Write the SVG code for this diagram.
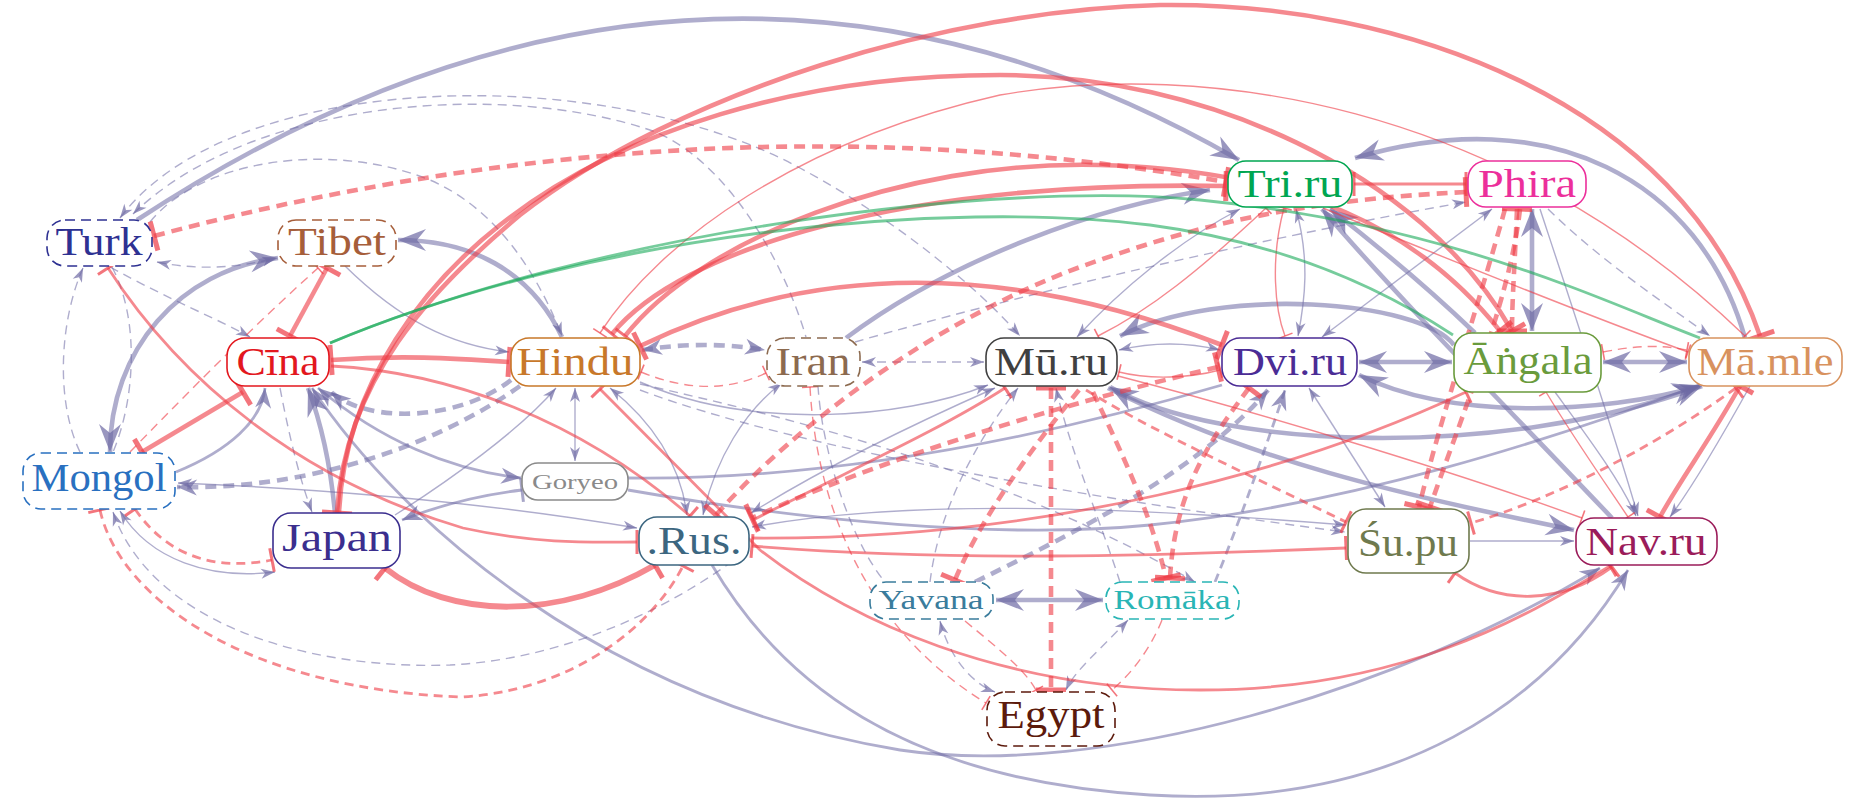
<svg xmlns="http://www.w3.org/2000/svg" width="1852" height="810" viewBox="0 0 1852 810">
<style>
.e{fill:none}
.b{stroke:#6e6aa4;stroke-opacity:.55}
.r{stroke:#ee3a45;stroke-opacity:.6}
.g{stroke:#1aaa5a;stroke-opacity:.6}
.w1{stroke-width:1.4}
.w2{stroke-width:2.8}
.w3{stroke-width:4.6}
.w4{stroke-width:6}
.d{stroke-dasharray:9 6}
.dd{stroke-dasharray:11 7}
.box{fill:#fff;stroke-width:1.6}
.dash{stroke-dasharray:10 6}
.lbl{font-family:"Liberation Serif","Times New Roman",serif;font-size:40px;text-anchor:middle}
.sm{font-size:27px}
.xs{font-size:22px}
</style>
<defs>
<marker id="aS" markerUnits="userSpaceOnUse" orient="auto-start-reverse" overflow="visible" markerWidth="1" markerHeight="1" refX="0" refY="0"><path d="M0,0 L-14,-5 L-10,0 L-14,5 z" fill="#6e6aa4" fill-opacity=".7"/></marker>
<marker id="aM" markerUnits="userSpaceOnUse" orient="auto-start-reverse" overflow="visible" markerWidth="1" markerHeight="1" refX="0" refY="0"><path d="M0,0 L-20,-8 L-14,0 L-20,8 z" fill="#6e6aa4" fill-opacity=".7"/></marker>
<marker id="aL" markerUnits="userSpaceOnUse" orient="auto-start-reverse" overflow="visible" markerWidth="1" markerHeight="1" refX="0" refY="0"><path d="M0,0 L-28,-11 L-19,0 L-28,11 z" fill="#6e6aa4" fill-opacity=".7"/></marker>
<marker id="bS" markerUnits="userSpaceOnUse" orient="auto" overflow="visible" markerWidth="1" markerHeight="1" refX="0" refY="0"><path d="M0,-8V8" stroke="#ee3a45" stroke-opacity=".7" stroke-width="1.6"/></marker>
<marker id="bM" markerUnits="userSpaceOnUse" orient="auto" overflow="visible" markerWidth="1" markerHeight="1" refX="0" refY="0"><path d="M0,-12V12" stroke="#ee3a45" stroke-opacity=".7" stroke-width="3"/></marker>
<marker id="bL" markerUnits="userSpaceOnUse" orient="auto" overflow="visible" markerWidth="1" markerHeight="1" refX="0" refY="0"><path d="M0,-15V15" stroke="#ee3a45" stroke-opacity=".7" stroke-width="5"/></marker>
<marker id="cM" markerUnits="userSpaceOnUse" orient="auto" overflow="visible" markerWidth="1" markerHeight="1" refX="0" refY="0"><path d="M0,-12V12" stroke="#6e6aa4" stroke-opacity=".6" stroke-width="3"/></marker>
</defs>

<g id="connectors">
<!-- influence (blue, arrow heads) -->
<path class="e b w3" marker-end="url(#aL)" d="M137,220 Q700,-150 1239,160"/>
<path class="e b w1 d" marker-start="url(#aS)" marker-end="url(#aS)" d="M120,218 C230,70 600,60 800,168 C900,222 980,290 1020,336"/>
<path class="e b w1 d" marker-start="url(#aS)" d="M133,214 C250,100 500,80 650,130 C720,155 780,250 806,337"/>
<path class="e b w1 d" marker-end="url(#aS)" d="M150,222 C200,160 330,140 430,180 C500,210 540,280 562,336"/>
<path class="e b w1 d" marker-end="url(#aS)" d="M110,267 C170,300 220,320 250,337"/>
<path class="e b w1 d" marker-start="url(#aS)" marker-end="url(#aS)" d="M157,262 Q215,274 276,258"/>
<path class="e b w1 d" marker-end="url(#aS)" d="M80,452 C55,400 60,320 83,268"/>
<path class="e b w1 d" d="M112,267 C140,320 135,400 113,452"/>
<path class="e b w3" marker-start="url(#aL)" marker-end="url(#aL)" d="M278,258 C180,270 110,350 110,452"/>
<path class="e b w1" marker-end="url(#aS)" d="M345,266 C400,320 450,345 509,352"/>
<path class="e b w3" marker-end="url(#aL)" d="M562,337 C530,270 470,240 398,240"/>
<path class="e b w2" marker-end="url(#aM)" d="M176,472 C230,450 262,420 265,388"/>
<path class="e b w3 dd" marker-end="url(#aM)" d="M511,380 C460,420 370,425 331,392"/>
<path class="e b w3 dd" marker-end="url(#aM)" d="M520,386 C430,450 300,490 177,487"/>
<path class="e b w3" marker-end="url(#aL)" d="M335,513 C330,460 320,420 308,388"/>
<path class="e b w1 d" marker-end="url(#aS)" d="M280,388 C290,440 300,480 312,512"/>
<path class="e b w2" marker-start="url(#aM)" marker-end="url(#aM)" d="M318,388 C380,440 450,470 521,478"/>
<path class="e b w2" marker-start="url(#aM)" marker-end="url(#aM)" d="M312,388 C400,520 600,700 900,750 C1100,780 1400,690 1600,568"/>
<path class="e b w2" marker-end="url(#aM)" d="M712,565 C780,680 900,780 1150,795 C1400,810 1550,700 1628,570"/>
<path class="e b w1" marker-start="url(#aS)" marker-end="url(#aS)" d="M120,511 C150,560 210,580 275,572"/>
<path class="e b w1 d" marker-start="url(#aS)" d="M113,512 C150,620 300,670 450,665 C550,660 650,620 730,563"/>
<path class="e b w1" marker-start="url(#aS)" marker-end="url(#aS)" d="M575,388 L575,461"/>
<path class="e b w1" marker-end="url(#aS)" d="M395,515 C450,480 520,430 556,388"/>
<path class="e b w2" marker-start="url(#cM)" marker-end="url(#aM)" d="M522,490 C480,495 440,505 402,520"/>
<path class="e b w1" marker-start="url(#aS)" marker-end="url(#aS)" d="M178,483 C350,490 500,505 637,528"/>
<path class="e b w3 dd" marker-start="url(#aM)" marker-end="url(#aM)" d="M642,350 Q705,340 765,350"/>
<path class="e b w1 d" marker-start="url(#aS)" marker-end="url(#aS)" d="M862,362 L984,362"/>
<path class="e b w3" marker-end="url(#aL)" d="M846,338 C950,260 1100,205 1210,190"/>
<path class="e b w1 d" marker-end="url(#aS)" d="M855,342 C1000,300 1250,240 1466,202"/>
<path class="e b w1" marker-end="url(#aS)" d="M640,382 C750,430 900,420 988,385"/>
<path class="e b w2" d="M628,478 C800,480 1000,450 1222,385"/>
<path class="e b w2" marker-end="url(#aM)" d="M628,490 C800,520 1000,540 1150,525 C1350,505 1550,440 1700,385"/>
<path class="e b w1" marker-start="url(#aS)" marker-end="url(#aS)" d="M1346,525 C1100,505 900,500 752,527"/>
<path class="e b w1" marker-start="url(#aS)" marker-end="url(#aS)" d="M995,388 C900,430 820,470 751,513"/>
<path class="e b w1" marker-start="url(#aS)" marker-end="url(#aS)" d="M703,515 C715,460 745,410 782,383"/>
<path class="e b w1" marker-start="url(#aS)" marker-end="url(#aS)" d="M610,388 C650,420 680,460 687,515"/>
<path class="e b w1 d" marker-end="url(#aS)" d="M640,390 C800,450 1100,500 1345,532"/>
<path class="e b w1 d" marker-end="url(#aS)" d="M640,384 C800,420 1000,470 1195,582"/>
<path class="e b w1 d" d="M818,386 C822,450 850,540 885,582"/>
<path class="e b w1" marker-start="url(#aS)" marker-end="url(#aS)" d="M1119,350 Q1170,338 1220,350"/>
<path class="e b w3" marker-end="url(#aL)" d="M1454,345 C1420,300 1220,285 1120,336"/>
<path class="e b w3" marker-start="url(#aL)" marker-end="url(#aL)" d="M1359,362 L1452,362"/>
<path class="e b w3" marker-start="url(#aL)" marker-end="url(#aL)" d="M1603,362 L1687,362"/>
<path class="e b w3" marker-start="url(#aL)" marker-end="url(#aL)" d="M1359,375 C1450,420 1600,415 1700,386"/>
<path class="e b w3" marker-start="url(#aL)" marker-end="url(#aL)" d="M1110,387 C1220,450 1500,460 1702,386"/>
<path class="e b w3" marker-end="url(#aL)" d="M1108,388 C1250,460 1400,495 1574,530"/>
<path class="e b w3" marker-end="url(#aL)" d="M1612,518 C1500,400 1400,300 1322,209"/>
<path class="e b w3" marker-end="url(#aL)" d="M1475,333 C1420,280 1370,240 1330,209"/>
<path class="e b w3" marker-end="url(#aL)" d="M1745,338 C1700,180 1550,100 1355,158"/>
<path class="e b w3" marker-start="url(#aL)" marker-end="url(#aL)" d="M1532,209 L1532,331"/>
<path class="e b w1" marker-end="url(#aS)" d="M1540,209 C1570,300 1610,420 1638,516"/>
<path class="e b w1 d" marker-end="url(#aS)" d="M1548,209 C1600,260 1660,300 1710,336"/>
<path class="e b w1" marker-start="url(#aS)" marker-end="url(#aS)" d="M1322,337 L1492,209"/>
<path class="e b w1" marker-start="url(#aS)" marker-end="url(#aS)" d="M1077,337 C1120,290 1180,240 1240,209"/>
<path class="e b w1" marker-start="url(#aS)" marker-end="url(#aS)" d="M1296,209 C1310,260 1305,300 1298,336"/>
<path class="e b w1" marker-start="url(#aS)" marker-end="url(#aS)" d="M1309,388 L1385,507"/>
<path class="e b w3 dd" marker-end="url(#aM)" d="M975,582 C1080,530 1200,470 1268,390"/>
<path class="e b w2 d" marker-end="url(#aM)" d="M1215,582 C1240,520 1265,450 1285,390"/>
<path class="e b w3" marker-start="url(#aL)" marker-end="url(#aL)" d="M996,600 L1103,600"/>
<path class="e b w1 d" marker-start="url(#aS)" marker-end="url(#aS)" d="M940,621 C950,660 975,685 995,692"/>
<path class="e b w1 d" marker-start="url(#aS)" marker-end="url(#aS)" d="M1128,620 C1100,650 1075,670 1066,690"/>
<path class="e b w1 d" marker-end="url(#aS)" d="M1120,582 C1100,520 1070,450 1056,388"/>
<path class="e b w1 d" marker-end="url(#aS)" d="M930,582 C940,500 985,430 1018,388"/>
<path class="e b w1" marker-end="url(#aS)" d="M1750,386 C1720,440 1690,490 1670,517"/>
<path class="e b w1" marker-end="url(#aS)" d="M1555,392 C1590,440 1620,480 1636,516"/>
<path class="e b w1" marker-end="url(#aS)" d="M1470,541 L1574,541"/>

<!-- inhibition (red, bar ends) -->
<path class="e r w3 dd" marker-start="url(#bL)" marker-end="url(#bL)" d="M154,236 Q700,90 1226,182"/>
<path class="e r w3" marker-start="url(#bL)" marker-end="url(#bL)" d="M331,360 C400,355 450,358 509,362"/>
<path class="e r w2" marker-end="url(#bM)" d="M331,366 C450,372 580,420 690,516"/>
<path class="e r w3" marker-start="url(#bL)" marker-end="url(#bL)" d="M327,268 L290,336"/>
<path class="e r w3" marker-start="url(#bL)" marker-end="url(#bL)" d="M243,392 L142,452"/>
<path class="e r w1 d" marker-end="url(#bS)" d="M130,452 C200,380 260,320 318,268"/>
<path class="e r w2" marker-start="url(#bM)" marker-end="url(#bM)" d="M108,268 C180,380 300,480 463,528 C540,545 600,542 637,542"/>
<path class="e r w3" marker-start="url(#bL)" marker-end="url(#bL)" d="M337,513 C345,380 430,290 520,215 C680,90 950,10 1160,5 C1400,2 1680,100 1760,336"/>
<path class="e r w3" marker-end="url(#bL)" d="M339,513 C345,380 430,280 500,225 C620,130 800,75 1000,75 C1200,75 1420,170 1512,331"/>
<path class="e r w3" marker-start="url(#bM)" marker-end="url(#bL)" d="M612,334 C680,250 900,180 1226,186"/>
<path class="e r w3" marker-start="url(#bM)" marker-end="url(#bL)" d="M625,336 C700,240 900,160 1100,165 C1300,170 1420,230 1500,331"/>
<path class="e r w1" marker-start="url(#bS)" marker-end="url(#bS)" d="M600,333 C660,240 800,140 1000,95 C1200,60 1500,100 1745,336"/>
<path class="e r w3" marker-start="url(#bL)" marker-end="url(#bL)" d="M640,346 Q900,220 1222,345"/>
<path class="e r w1 d" marker-start="url(#bS)" marker-end="url(#bS)" d="M641,372 C690,392 730,390 766,373"/>
<path class="e r w2" marker-start="url(#bM)" marker-end="url(#bM)" d="M1354,184 L1466,184"/>
<path class="e r w3 dd" marker-start="url(#bL)" marker-end="url(#bL)" d="M716,515 C800,420 950,310 1100,260 C1200,225 1300,200 1466,192"/>
<path class="e r w1" marker-start="url(#bS)" marker-end="url(#bS)" d="M1266,208 C1200,270 1150,310 1098,336"/>
<path class="e r w1" marker-start="url(#bS)" marker-end="url(#bS)" d="M1284,208 C1270,260 1275,310 1285,336"/>
<path class="e r w1" marker-end="url(#bS)" d="M1323,208 C1450,260 1600,320 1688,352"/>
<path class="e r w1" marker-start="url(#bS)" marker-end="url(#bS)" d="M1119,372 C1150,380 1190,378 1220,370"/>
<path class="e r w3 dd" marker-start="url(#bL)" marker-end="url(#bL)" d="M1051,388 L1051,690"/>
<path class="e r w3 dd" marker-end="url(#bL)" d="M1079,390 C1030,450 980,520 955,580"/>
<path class="e r w3 dd" marker-end="url(#bL)" d="M1093,392 C1120,450 1150,510 1166,578"/>
<path class="e r w3 dd" marker-start="url(#bL)" marker-end="url(#bL)" d="M1249,388 C1210,440 1175,490 1170,578"/>
<path class="e r w3 dd" marker-start="url(#bL)" marker-end="url(#bL)" d="M1218,367 C1100,395 900,450 752,518"/>
<path class="e r w2 d" marker-end="url(#bM)" d="M1086,390 C1150,430 1260,480 1346,522"/>
<path class="e r w2" marker-start="url(#bM)" marker-end="url(#bM)" d="M753,520 C850,470 940,430 1005,388"/>
<path class="e r w2" marker-start="url(#bM)" marker-end="url(#bM)" d="M752,546 C950,562 1150,556 1346,548"/>
<path class="e r w2" marker-end="url(#bM)" d="M752,538 C1050,540 1300,470 1466,392"/>
<path class="e r w2" marker-start="url(#bM)" marker-end="url(#bM)" d="M600,389 C660,450 720,510 760,550 C850,620 1000,690 1200,690 C1400,690 1520,620 1610,566"/>
<path class="e r w4" marker-start="url(#bL)" marker-end="url(#bL)" d="M385,568 C450,620 560,620 655,565"/>
<path class="e r w2 d" marker-start="url(#bM)" marker-end="url(#bM)" d="M135,509 C170,560 220,570 272,560"/>
<path class="e r w2 d" marker-start="url(#bM)" marker-end="url(#bM)" d="M100,510 C120,600 250,690 463,697 C570,690 650,630 683,566"/>
<path class="e r w1 d" marker-start="url(#bS)" marker-end="url(#bS)" d="M810,387 C815,480 850,620 986,703"/>
<path class="e r w1 d" marker-end="url(#bS)" d="M965,621 C1000,650 1025,670 1036,690"/>
<path class="e r w1 d" marker-end="url(#bS)" d="M1162,620 C1150,650 1130,675 1112,690"/>
<path class="e r w2" marker-start="url(#bM)" marker-end="url(#bM)" d="M1455,573 C1500,605 1560,605 1612,567"/>
<path class="e r w3 dd" marker-start="url(#bL)" marker-end="url(#bL)" d="M1517,209 C1515,260 1512,300 1512,331"/>
<path class="e r w3 dd" marker-end="url(#bL)" d="M1505,209 C1480,300 1440,420 1419,507"/>
<path class="e r w3 dd" marker-end="url(#bL)" d="M1520,209 C1510,300 1460,420 1430,507"/>
<path class="e r w3" marker-start="url(#bL)" marker-end="url(#bL)" d="M1740,386 C1710,440 1680,480 1660,517"/>
<path class="e r w2 d" marker-start="url(#bM)" marker-end="url(#bM)" d="M1736,388 C1650,450 1550,500 1471,523"/>
<path class="e r w1 d" marker-start="url(#bS)" marker-end="url(#bS)" d="M1603,352 C1640,345 1660,345 1687,350"/>
<path class="e r w1" marker-start="url(#bS)" marker-end="url(#bS)" d="M1546,392 C1575,440 1610,490 1628,517"/>
<path class="e r w1" marker-end="url(#bS)" d="M1118,376 C1250,410 1450,470 1582,518"/>

<!-- green links -->
<path class="e g w2" d="M330,343 C600,230 1000,180 1200,200 C1450,225 1600,300 1700,338"/>
<path class="e g w2" d="M330,343 C600,230 950,200 1150,225 C1300,245 1400,300 1453,335"/>
</g>

<g id="n-turk"><rect class="box dash" x="47" y="220" width="105" height="46" rx="18" stroke="#2e3192"/><text class="lbl" x="99" y="255" textLength="87" lengthAdjust="spacingAndGlyphs" fill="#2e3192">Turk</text></g>
<g id="n-tibet"><rect class="box dash" x="278" y="220" width="118" height="46" rx="18" stroke="#a65e3a"/><text class="lbl" x="337" y="255" textLength="98" lengthAdjust="spacingAndGlyphs" fill="#a65e3a">Tibet</text></g>
<g id="n-cina"><rect class="box" x="227" y="338" width="102" height="48" rx="18" stroke="#e3171e"/><text class="lbl" x="278" y="375" textLength="83" lengthAdjust="spacingAndGlyphs" fill="#e3171e">Cīna</text></g>
<g id="n-mongol"><rect class="box dash" x="23" y="453" width="152" height="56" rx="18" stroke="#2970c0"/><text class="lbl" x="99" y="491" textLength="135" lengthAdjust="spacingAndGlyphs" fill="#2970c0">Mongol</text></g>
<g id="n-japan"><rect class="box" x="273" y="513" width="127" height="55" rx="18" stroke="#3b2e8e"/><text class="lbl" x="337" y="551" textLength="110" lengthAdjust="spacingAndGlyphs" fill="#3b2e8e">Japan</text></g>
<g id="n-hindu"><rect class="box" x="511" y="338" width="129" height="48" rx="18" stroke="#c8782a"/><text class="lbl" x="575" y="375" textLength="117" lengthAdjust="spacingAndGlyphs" fill="#c8782a">Hindu</text></g>
<g id="n-iran"><rect class="box dash" x="767" y="338" width="93" height="48" rx="18" stroke="#8c6a4f"/><text class="lbl" x="813" y="375" textLength="75" lengthAdjust="spacingAndGlyphs" fill="#8c6a4f">Iran</text></g>
<g id="n-goryeo"><rect class="box" x="522" y="463" width="106" height="37" rx="16" stroke="#8a8a8a"/><text class="lbl xs" x="575" y="489" textLength="86" lengthAdjust="spacingAndGlyphs" fill="#8a8a8a">Goryeo</text></g>
<g id="n-rus"><rect class="box" x="639" y="517" width="110" height="48" rx="18" stroke="#3c6680"/><text class="lbl" x="694" y="554" textLength="95" lengthAdjust="spacingAndGlyphs" fill="#3c6680">.Rus.</text></g>
<g id="n-muru"><rect class="box" x="986" y="338" width="131" height="48" rx="18" stroke="#404040"/><text class="lbl" x="1051" y="375" textLength="114" lengthAdjust="spacingAndGlyphs" fill="#404040">Mū.ru</text></g>
<g id="n-dviru"><rect class="box" x="1222" y="338" width="135" height="48" rx="18" stroke="#4b2c95"/><text class="lbl" x="1290" y="375" textLength="114" lengthAdjust="spacingAndGlyphs" fill="#4b2c95">Dvi.ru</text></g>
<g id="n-angala"><rect class="box" x="1454" y="333" width="147" height="59" rx="18" stroke="#6a9b3c"/><text class="lbl" x="1528" y="374" textLength="129" lengthAdjust="spacingAndGlyphs" fill="#6a9b3c">Āṅgala</text></g>
<g id="n-mamle"><rect class="box" x="1689" y="338" width="153" height="48" rx="18" stroke="#d8925e"/><text class="lbl" x="1765" y="375" textLength="137" lengthAdjust="spacingAndGlyphs" fill="#d8925e">Mā.mle</text></g>
<g id="n-triru"><rect class="box" x="1228" y="161" width="124" height="46" rx="18" stroke="#00a651"/><text class="lbl" x="1290" y="197" textLength="105" lengthAdjust="spacingAndGlyphs" fill="#00a651">Tri.ru</text></g>
<g id="n-phira"><rect class="box" x="1468" y="161" width="118" height="46" rx="18" stroke="#ec2f9b"/><text class="lbl" x="1527" y="197" textLength="98" lengthAdjust="spacingAndGlyphs" fill="#ec2f9b">Phira</text></g>
<g id="n-supu"><rect class="box" x="1348" y="509" width="121" height="64" rx="18" stroke="#6f7a4e"/><text class="lbl" x="1408" y="556" textLength="100" lengthAdjust="spacingAndGlyphs" fill="#6f7a4e">Śu.pu</text></g>
<g id="n-navru"><rect class="box" x="1576" y="518" width="141" height="47" rx="18" stroke="#9b1c5a"/><text class="lbl" x="1646" y="555" textLength="121" lengthAdjust="spacingAndGlyphs" fill="#9b1c5a">Nav.ru</text></g>
<g id="n-yavana"><rect class="box dash" x="870" y="582" width="123" height="37" rx="16" stroke="#3a7c9c"/><text class="lbl sm" x="931" y="609" textLength="105" lengthAdjust="spacingAndGlyphs" fill="#3a7c9c">Yavana</text></g>
<g id="n-romaka"><rect class="box dash" x="1106" y="582" width="133" height="37" rx="16" stroke="#29b5b5"/><text class="lbl sm" x="1172" y="609" textLength="117" lengthAdjust="spacingAndGlyphs" fill="#29b5b5">Romāka</text></g>
<g id="n-egypt"><rect class="box dash" x="987" y="692" width="128" height="54" rx="18" stroke="#5c1a0c"/><text class="lbl" x="1051" y="728" textLength="107" lengthAdjust="spacingAndGlyphs" fill="#5c1a0c">Egypt</text></g>
</svg>
